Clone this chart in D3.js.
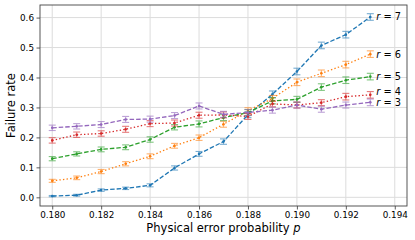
<!DOCTYPE html>
<html>
<head>
<meta charset="utf-8">
<script src="https://cdn.jsdelivr.net/npm/d3@7"></script>
<style>
  body { margin: 0; background: #fff; }
  svg { display: block; }
  text { font-family: "DejaVu Sans", sans-serif; fill: #000; }
</style>
</head>
<body>
<div id="chart"></div>
<script>
// --- Data ---
const pValues = [0.180, 0.181, 0.182, 0.183, 0.184, 0.185, 0.186, 0.187, 0.188, 0.189, 0.190, 0.191, 0.192, 0.193];
const xTicks = [0.180, 0.182, 0.184, 0.186, 0.188, 0.190, 0.192, 0.194];
const yTicks = [0.0, 0.1, 0.2, 0.3, 0.4, 0.5, 0.6];

const rLabels = ["r = 7", "r = 6", "r = 5", "r = 4", "r = 3"];

const rate7 = [0.004, 0.007, 0.024, 0.030, 0.040, 0.098, 0.145, 0.186, 0.276, 0.344, 0.420, 0.507, 0.543, 0.602];
const rate6 = [0.055, 0.065, 0.086, 0.112, 0.137, 0.172, 0.199, 0.244, 0.289, 0.330, 0.384, 0.414, 0.443, 0.478];
const rate5 = [0.129, 0.145, 0.160, 0.167, 0.193, 0.234, 0.245, 0.266, 0.283, 0.322, 0.327, 0.368, 0.391, 0.403];
const rate4 = [0.190, 0.209, 0.213, 0.227, 0.246, 0.248, 0.274, 0.275, 0.270, 0.312, 0.308, 0.316, 0.336, 0.342];
const rate3 = [0.232, 0.237, 0.243, 0.260, 0.261, 0.273, 0.305, 0.277, 0.283, 0.291, 0.308, 0.294, 0.308, 0.317];

const err7 = [0.002, 0.003, 0.004, 0.004, 0.005, 0.007, 0.008, 0.009, 0.010, 0.011, 0.011, 0.011, 0.011, 0.011];
const err6 = [0.005, 0.006, 0.007, 0.007, 0.008, 0.008, 0.009, 0.010, 0.010, 0.010, 0.011, 0.011, 0.011, 0.011];
const err5 = [0.007, 0.007, 0.008, 0.008, 0.009, 0.009, 0.010, 0.010, 0.010, 0.010, 0.010, 0.011, 0.011, 0.011];
const err4 = [0.009, 0.009, 0.009, 0.010, 0.010, 0.010, 0.010, 0.010, 0.010, 0.010, 0.010, 0.010, 0.011, 0.011];
const err3 = [0.009, 0.009, 0.010, 0.010, 0.010, 0.010, 0.010, 0.010, 0.010, 0.010, 0.010, 0.010, 0.010, 0.011];

const rates = [rate7, rate6, rate5, rate4, rate3];
const errs = [err7, err6, err5, err4, err3];

// --- Style ---
const colors = ["#1f77b4", "#ff7f0e", "#2ca02c", "#d62728", "#9467bd"];
const dashes = ["4.5,2", "1.4,2.2", "4.5,2", "1.4,2.2", "4.5,2"];
const labelShift = [0, 0, 0, -3, 0];

// --- Sizing ---
const W = 415, H = 240;
const margin = { top: 5, right: 8, bottom: 34, left: 40 };

const svg = d3.select("#chart").append("svg")
  .attr("width", W)
  .attr("height", H);

const x = d3.scaleLinear()
  .domain([0.1795, 0.1945])
  .range([margin.left, W - margin.right]);

const y = d3.scaleLinear()
  .domain([-0.029, 0.642])
  .range([H - margin.bottom, margin.top]);

// grid
const grid = svg.append("g").attr("class", "grid");
grid.selectAll("line.gx")
  .data(xTicks)
  .enter().append("line")
  .attr("x1", d => x(d)).attr("x2", d => x(d))
  .attr("y1", margin.top).attr("y2", H - margin.bottom)
  .attr("stroke", "#dcdcdc").attr("stroke-width", 1);
grid.selectAll("line.gy")
  .data(yTicks)
  .enter().append("line")
  .attr("x1", margin.left).attr("x2", W - margin.right)
  .attr("y1", d => y(d)).attr("y2", d => y(d))
  .attr("stroke", "#dcdcdc").attr("stroke-width", 1);

// axes
const xAxis = d3.axisBottom(x)
  .tickValues(xTicks)
  .tickFormat(d3.format(".3f"))
  .tickSize(3.5)
  .tickPadding(2.5);

const yAxis = d3.axisLeft(y)
  .tickValues(yTicks)
  .tickFormat(d3.format(".1f"))
  .tickSize(3.5)
  .tickPadding(2.5);

const gx = svg.append("g")
  .attr("transform", `translate(0,${H - margin.bottom})`)
  .call(xAxis);
const gy = svg.append("g")
  .attr("transform", `translate(${margin.left},0)`)
  .call(yAxis);

[gx, gy].forEach(g => {
  g.select(".domain").remove();
  g.selectAll(".tick line").attr("stroke", "#333").attr("stroke-width", 0.8);
  g.selectAll(".tick text")
    .style("font-family", "DejaVu Sans")
    .style("font-size", "8.8px")
    .attr("fill", "#000");
});

// frame
svg.append("rect")
  .attr("x", margin.left)
  .attr("y", margin.top)
  .attr("width", W - margin.left - margin.right)
  .attr("height", H - margin.top - margin.bottom)
  .attr("fill", "none")
  .attr("stroke", "#444")
  .attr("stroke-width", 0.9);

// series
const line = d3.line()
  .x((d, i) => x(pValues[i]))
  .y(d => y(d));

rates.forEach((vals, s) => {
  const g = svg.append("g").attr("class", "series");
  const c = colors[s];

  // error bars
  const eb = g.append("g").attr("opacity", 0.6);
  eb.selectAll("line.bar")
    .data(vals)
    .enter().append("line")
    .attr("x1", (d, i) => x(pValues[i]))
    .attr("x2", (d, i) => x(pValues[i]))
    .attr("y1", (d, i) => y(d - errs[s][i]))
    .attr("y2", (d, i) => y(d + errs[s][i]))
    .attr("stroke", c).attr("stroke-width", 1.1);
  [-1, 1].forEach(sign => {
    eb.selectAll(null)
      .data(vals)
      .enter().append("line")
      .attr("x1", (d, i) => x(pValues[i]) - 3.5)
      .attr("x2", (d, i) => x(pValues[i]) + 3.5)
      .attr("y1", (d, i) => y(d + sign * errs[s][i]))
      .attr("y2", (d, i) => y(d + sign * errs[s][i]))
      .attr("stroke", c).attr("stroke-width", 1.1);
  });

  g.append("path")
    .datum(vals)
    .attr("d", line)
    .attr("fill", "none")
    .attr("stroke", c)
    .attr("stroke-width", 1.3)
    .attr("stroke-dasharray", dashes[s]);

  g.selectAll("circle")
    .data(vals)
    .enter().append("circle")
    .attr("cx", (d, i) => x(pValues[i]))
    .attr("cy", d => y(d))
    .attr("r", 1.3)
    .attr("fill", c);

  // end label
  const last = vals.length - 1;
  const t = g.append("text")
    .attr("x", x(pValues[last]) + 6)
    .attr("y", y(vals[last]) + labelShift[s])
    .attr("dy", "0.35em")
    .style("font-size", "9.8px");
  const parts = rLabels[s].split(" = ");
  t.append("tspan").style("font-style", "italic").text(parts[0]);
  t.append("tspan").text(" = " + parts[1]);
});

// axis labels
svg.append("text")
  .attr("x", (margin.left + W - margin.right) / 2)
  .attr("y", 232)
  .attr("text-anchor", "middle")
  .style("font-size", "11.5px")
  .html('Physical error probability <tspan font-style="italic">p</tspan>');

svg.append("text")
  .attr("transform", `translate(15,${(margin.top + H - margin.bottom) / 2}) rotate(-90)`)
  .attr("text-anchor", "middle")
  .style("font-size", "11.5px")
  .text("Failure rate");
</script>
</body>
</html>
